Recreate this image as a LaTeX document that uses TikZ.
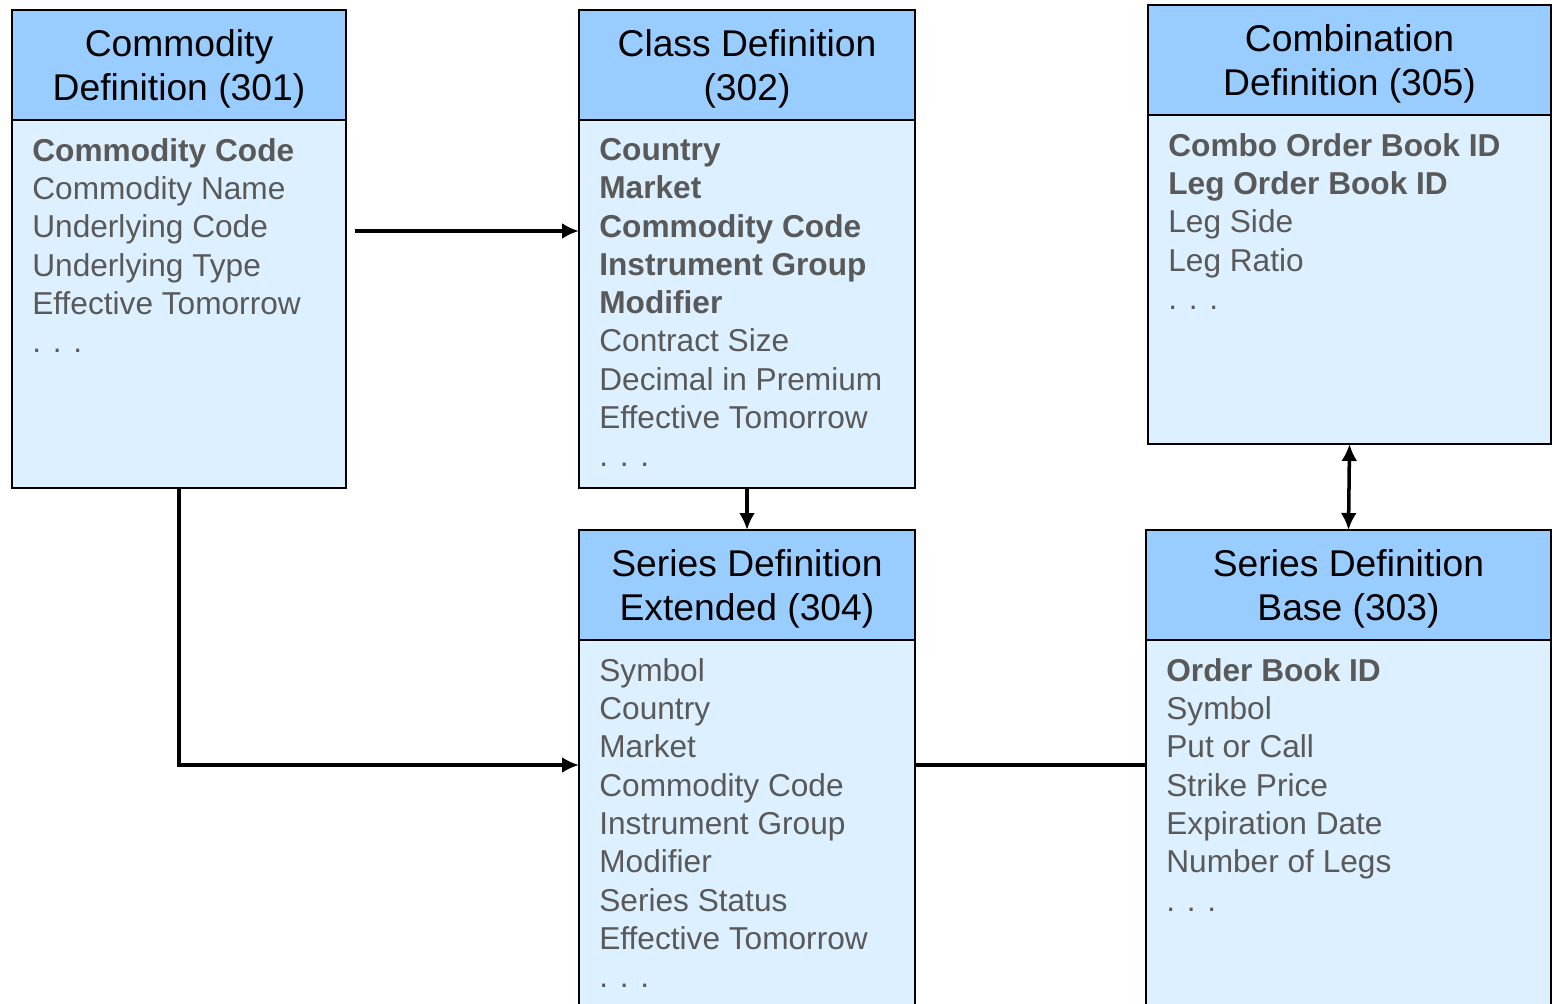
\documentclass[tikz,border=0pt]{standalone}
\usepackage{fontspec}
\setmainfont{Liberation Sans}
\usetikzlibrary{positioning,arrows.meta}
\definecolor{headblue}{RGB}{153,204,255}
\definecolor{bodyblue}{RGB}{221,240,255}
\definecolor{itemgray}{RGB}{89,89,89}
\tikzset{
  head/.style={draw, line width=1.1pt, fill=headblue, minimum height=2.2cm, align=center,
    inner sep=0pt, outer sep=0pt, anchor=north west, text depth=0pt,
    font=\fontsize{21.2}{25}\selectfont},
  body/.style={draw, line width=1.1pt, fill=bodyblue, inner sep=0pt, outer sep=0pt},
  fields/.style={anchor=north west, align=left, inner xsep=0.4cm, inner ysep=0.36cm,
    text=itemgray, font=\fontsize{18}{21.8}\selectfont},
  conn/.style={line width=2pt, -{Latex[length=0.34cm,width=0.32cm]}},
  link/.style={line width=2pt},
}

\begin{document}
\begin{tikzpicture}
        \useasboundingbox (0,0) rectangle (31.04,-20.06);
        % commodity definition
        \node[head, minimum width=6.68cm] (h301) at (0.24,-0.2) {Commodity\\Definition (301)};
        \node[body, minimum width=6.68cm, minimum height=7.36cm, below=0pt of h301] (b301) {};
        \node[fields] (f301) at (b301.north west) {\textbf{Commodity Code}\\Commodity Name\\Underlying Code\\Underlying Type\\Effective Tomorrow\\. . .};
        % class definition
        \node[head, minimum width=6.72cm] (h302) at (11.58,-0.2) {Class Definition\\(302)};
        \node[body, minimum width=6.72cm, minimum height=7.36cm, below=0pt of h302] (b302) {};
        \node[fields] (f302) at (b302.north west) {\textbf{Country}\\\textbf{Market}\\\textbf{Commodity Code}\\\textbf{Instrument Group}\\\textbf{Modifier}\\Contract Size\\Decimal in Premium\\Effective Tomorrow\\. . .};
        % combination definition
        \node[head, minimum width=8.06cm] (h305) at (22.96,-0.1) {Combination\\Definition (305)};
        \node[body, minimum width=8.06cm, minimum height=6.58cm, below=0pt of h305] (b305) {};
        \node[fields] (f305) at (b305.north west) {\textbf{Combo Order Book ID}\\\textbf{Leg Order Book ID}\\Leg Side\\Leg Ratio\\. . .};
        % series definition extended
        \node[head, minimum width=6.72cm] (h304) at (11.58,-10.6) {Series Definition\\Extended (304)};
        \node[body, minimum width=6.72cm, minimum height=7.6cm, below=0pt of h304] (b304) {};
        \node[fields] (f304) at (b304.north west) {Symbol\\Country\\Market\\Commodity Code\\Instrument Group\\Modifier\\Series Status\\Effective Tomorrow\\. . .};
        % series definition base
        \node[head, minimum width=8.1cm] (h303) at (22.92,-10.6) {Series Definition\\Base (303)};
        \node[body, minimum width=8.1cm, minimum height=7.6cm, below=0pt of h303] (b303) {};
        \node[fields] (f303) at (b303.north west) {\textbf{Order Book ID}\\Symbol\\Put or Call\\Strike Price\\Expiration Date\\Number of Legs\\. . .};
        % connectors
        \coordinate (a1) at ([shift={(0.18,-2.22)}]b301.north east);
        \draw[conn] (a1) -- (a1 -| b302.west);
        \draw[conn] (b302.south) -- (h304.north);
        \coordinate (a2) at ([yshift=-2.5cm]b304.north west);
        \draw[conn] (b301.south) |- (a2);
        \draw[link] ([yshift=-2.5cm]b304.north east) -- ([yshift=-2.5cm]b303.north west);
        \draw[link, {Latex[length=0.34cm,width=0.32cm]}-{Latex[length=0.34cm,width=0.32cm]}] (b305.south) -- (h303.north);
    \end{tikzpicture}
\end{document}
